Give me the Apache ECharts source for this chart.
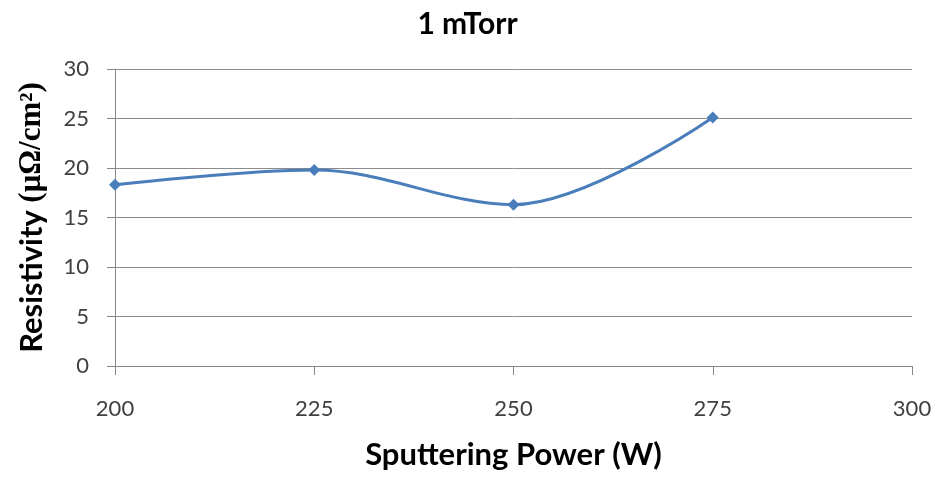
<!DOCTYPE html>
<html><head><meta charset="utf-8">
<script src="https://cdn.jsdelivr.net/npm/echarts@6/dist/echarts.min.js"></script>
<style>html,body{margin:0;padding:0;background:#fff}#c{width:935px;height:480px}</style>
</head><body><div id="c"></div>
<script>
const powers = [200, 225, 250, 275];
const resistivity = [18.3, 19.8, 16.3, 25.1];
const xTicks = [200, 225, 250, 275, 300];
const yTicks = [0, 5, 10, 15, 20, 25, 30];
const titleText = '1 mTorr';
const xName = 'Sputtering Power (W)';

const chart = echarts.init(document.getElementById('c'));
chart.setOption({
  animation: false,
  backgroundColor: '#ffffff',
  title: {
    text: titleText, left: 'center', top: 4,
    textStyle: {fontFamily: 'Lato', fontWeight: 'bold', fontSize: 30, color: '#000'}
  },
  grid: {left: 115, right: 23, top: 69, bottom: 114},
  xAxis: {
    type: 'value', min: xTicks[0], max: xTicks[xTicks.length-1], interval: 25,
    name: xName, nameLocation: 'middle', nameGap: 73,
    nameTextStyle: {fontFamily: 'Lato', fontWeight: 'bold', fontSize: 31, color: '#000'},
    axisLine: {show: true, lineStyle: {color: '#868686', width: 1}},
    axisTick: {show: true, inside: false, length: 9, lineStyle: {color: '#868686'}},
    axisLabel: {margin: 32, fontFamily: 'Lato', fontSize: 22, color: '#404040'},
    splitLine: {show: false}
  },
  yAxis: {
    type: 'value', min: yTicks[0], max: yTicks[yTicks.length-1], interval: 5,
    name: '{a|Resistivity }{b|(μΩ/cm²)}', nameLocation: 'middle', nameGap: 68, nameRotate: 90,
    nameTextStyle: {
      rich: {
        a: {fontFamily: 'Lato', fontWeight: 'bold', fontSize: 31, color: '#000'},
        b: {fontFamily: 'Liberation Serif', fontWeight: 'bold', fontSize: 31, color: '#000'}
      }
    },
    axisLine: {show: true, lineStyle: {color: '#868686', width: 1}},
    axisTick: {show: true, inside: false, length: 8, lineStyle: {color: '#868686'}},
    axisLabel: {margin: 26, fontFamily: 'Lato', fontSize: 22, color: '#404040'},
    splitLine: {show: true, lineStyle: {color: '#8c8c8c', width: 1}}
  },
  series: [{
    type: 'line',
    data: powers.map((p, i) => [p, resistivity[i]]),
    smooth: 0.35,
    symbol: 'diamond', symbolSize: 12,
    lineStyle: {color: '#4a7ebb', width: 3},
    itemStyle: {color: '#4a7ebb'}
  }]
});
</script></body></html>
